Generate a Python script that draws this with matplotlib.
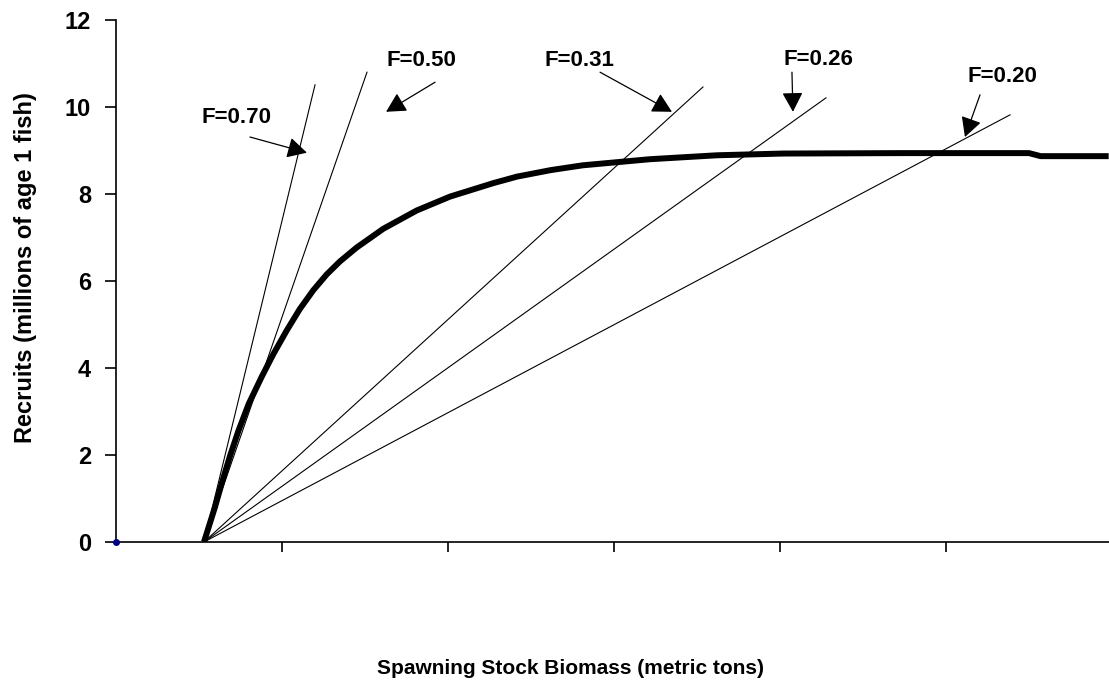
import matplotlib
matplotlib.use("Agg")
from matplotlib import pyplot as plt

plt.rcParams["font.family"] = ["Liberation Sans", "DejaVu Sans"]
plt.rcParams["font.weight"] = "bold"

# stock-recruitment curve (x in tick units, y in millions of age 1 fish)
ssb = [0.53, 0.596, 0.637, 0.687, 0.737, 0.80, 0.878, 0.948, 1.028, 1.108,
       1.189, 1.269, 1.349, 1.450, 1.610, 1.811, 2.012, 2.273, 2.416, 2.62,
       2.813, 3.217, 3.620, 4.018, 4.72, 5.50, 5.57, 5.98]
recruits = [0.0, 0.80, 1.35, 1.98, 2.55, 3.18, 3.80, 4.32, 4.86, 5.36,
            5.79, 6.15, 6.45, 6.77, 7.20, 7.62, 7.94, 8.25, 8.40, 8.55,
            8.66, 8.80, 8.89, 8.93, 8.94, 8.94, 8.87, 8.87]

# replacement lines through the origin point, one per fishing mortality
f_labels = ["F=0.70", "F=0.50", "F=0.31", "F=0.26", "F=0.20"]
line_origin = (0.53, 0.0)
line_end_x = [1.199, 1.512, 3.536, 4.277, 5.386]
line_end_y = [10.51, 10.80, 10.46, 10.21, 9.82]

y_ticks = [0, 2, 4, 6, 8, 10, 12]
x_ticks = [1, 2, 3, 4, 5]

# label placement: text centre, arrow tail, arrow tip (data units)
text_pos = [(0.723, 9.75), (1.837, 11.08), (2.789, 11.08), (4.229, 11.10), (5.337, 10.69)]
arrow_tail = [(0.807, 9.31), (1.922, 10.57), (2.916, 10.80), (4.072, 10.80), (5.205, 10.28)]
arrow_tip = [(1.15, 8.95), (1.627, 9.89), (3.349, 9.89), (4.078, 9.89), (5.114, 9.31)]

W, H = 1109, 691
fig = plt.figure(figsize=(W / 100, H / 100), dpi=100)
ax = fig.add_axes([116 / W, 1 - 542 / H, 996 / W, 522 / H])

for xe, ye in zip(line_end_x, line_end_y):
    ax.plot([line_origin[0], xe], [line_origin[1], ye], color="black", lw=0.8)

ax.plot(ssb, recruits, color="black", lw=4.3, solid_joinstyle="round",
        solid_capstyle="butt")
ax.plot([0], [0], "o", color="#000080", ms=4, clip_on=False, zorder=5)

for lab, tp, tail, tip in zip(f_labels, text_pos, arrow_tail, arrow_tip):
    ax.text(tp[0], tp[1], lab, ha="center", va="center", fontsize=16, fontweight="bold")
    ax.annotate("", xy=tip, xytext=tail,
                arrowprops=dict(arrowstyle="-|>,head_length=0.6,head_width=0.32",
                                mutation_scale=20, color="black", lw=0.9,
                                shrinkA=0, shrinkB=0))

ax.set_xlim(0, 6)
ax.set_ylim(0, 12)
ax.set_xticks(x_ticks)
ax.set_xticklabels([])
ax.set_yticks(y_ticks)
ax.set_yticklabels([str(t) for t in y_ticks], fontsize=17, fontweight="bold")
ax.tick_params(axis="y", length=8, width=1.2, pad=10)
ax.tick_params(axis="x", length=7, width=1.2)
ax.spines["top"].set_visible(False)
ax.spines["right"].set_visible(False)
ax.spines["left"].set_linewidth(1.2)
ax.spines["bottom"].set_linewidth(1.2)

fig.text(26 / W, 1 - 268 / H, "Recruits (millions of age 1 fish)", rotation=90,
         ha="center", va="center", fontsize=17, fontweight="bold")
fig.text(570 / W, 1 - 668 / H, "Spawning Stock Biomass (metric tons)",
         ha="center", va="center", fontsize=15, fontweight="bold")

fig.savefig("out.png", dpi=100)
